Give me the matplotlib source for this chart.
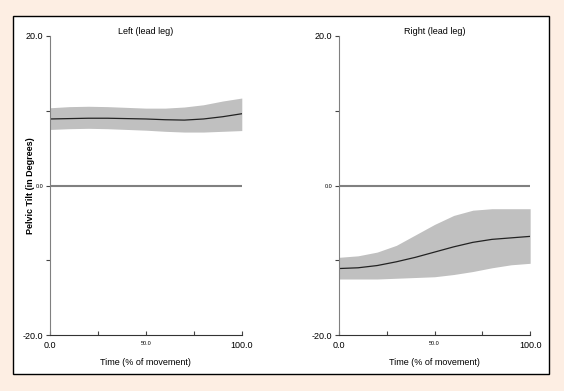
import matplotlib
matplotlib.use('Agg')
import matplotlib.pyplot as plt
from matplotlib.patches import Rectangle

plt.rcParams['font.family'] = ['Liberation Sans', 'DejaVu Sans']

# data
time_pct = [0, 10, 20, 30, 40, 50, 60, 70, 80, 90, 100]

left_mean = [8.9, 8.95, 9.0, 9.0, 8.95, 8.9, 8.8, 8.75, 8.9, 9.2, 9.6]
left_upper = [10.4, 10.55, 10.6, 10.55, 10.45, 10.35, 10.35, 10.5, 10.8, 11.3, 11.7]
left_lower = [7.5, 7.6, 7.65, 7.6, 7.5, 7.4, 7.25, 7.15, 7.15, 7.25, 7.35]

right_mean = [-11.1, -11.0, -10.7, -10.2, -9.6, -8.9, -8.2, -7.6, -7.2, -7.0, -6.8]
right_upper = [-9.6, -9.4, -8.9, -8.0, -6.6, -5.2, -4.0, -3.3, -3.1, -3.1, -3.1]
right_lower = [-12.5, -12.5, -12.5, -12.4, -12.3, -12.2, -11.9, -11.5, -11.0, -10.6, -10.4]

titles = ['Left (lead leg)', 'Right (lead leg)']
y_ticks = [-20, -10, 0, 10, 20]
y_ticklabels = ['-20.0', '', '0.0', '', '20.0']
x_ticks = [0, 25, 50, 75, 100]
x_ticklabels = ['0.0', '', '50.0', '', '100.0']

fig = plt.figure(figsize=(5.64, 3.91), dpi=100)
fig.patch.set_facecolor('#fdeee3')
# white panel with black frame (behind the axes)
fig.patches.append(Rectangle((0.023, 0.043), 0.950, 0.916, transform=fig.transFigure,
                             facecolor='white', edgecolor='black', linewidth=1.0, zorder=-1))

ax_l = fig.add_axes([0.0887, 0.143, 0.340, 0.765])
ax_r = fig.add_axes([0.601, 0.143, 0.339, 0.765])

series = [(left_mean, left_upper, left_lower), (right_mean, right_upper, right_lower)]

for ax, title, (m, up, lo) in zip([ax_l, ax_r], titles, series):
    ax.patch.set_alpha(0)
    ax.fill_between(time_pct, lo, up, color='#c0c0c0', linewidth=0)
    ax.plot(time_pct, m, color='#222222', linewidth=0.9)
    ax.axhline(0, color='#808080', linewidth=1.5, xmin=0, xmax=1)
    ax.set_xlim(0, 100)
    ax.set_ylim(-20, 20)
    for s in ['top', 'right']:
        ax.spines[s].set_visible(False)
    ax.spines['left'].set_color('#808080')
    ax.spines['bottom'].set_color('#333333')
    ax.set_yticks(y_ticks)
    ax.set_yticklabels(y_ticklabels)
    ax.set_xticks(x_ticks)
    ax.set_xticklabels(x_ticklabels)
    ax.tick_params(axis='y', direction='out', length=3, width=0.8, color='#444444', labelsize=6.5, pad=2)
    ax.tick_params(axis='x', direction='in', length=3, width=0.8, color='#444444', labelsize=6.5, pad=4)
    ax.get_yticklabels()[2].set_fontsize(4)
    ax.get_xticklabels()[2].set_fontsize(4)
    ax.set_title(title, fontsize=6.5, pad=1)
    ax.set_xlabel('Time (% of movement)', fontsize=6.5, labelpad=6)

ax_l.set_ylabel('Pelvic Tilt (in Degrees)', fontsize=6.5, fontweight='bold', labelpad=-9)

plt.savefig('out.png', dpi=100, facecolor=fig.get_facecolor())
